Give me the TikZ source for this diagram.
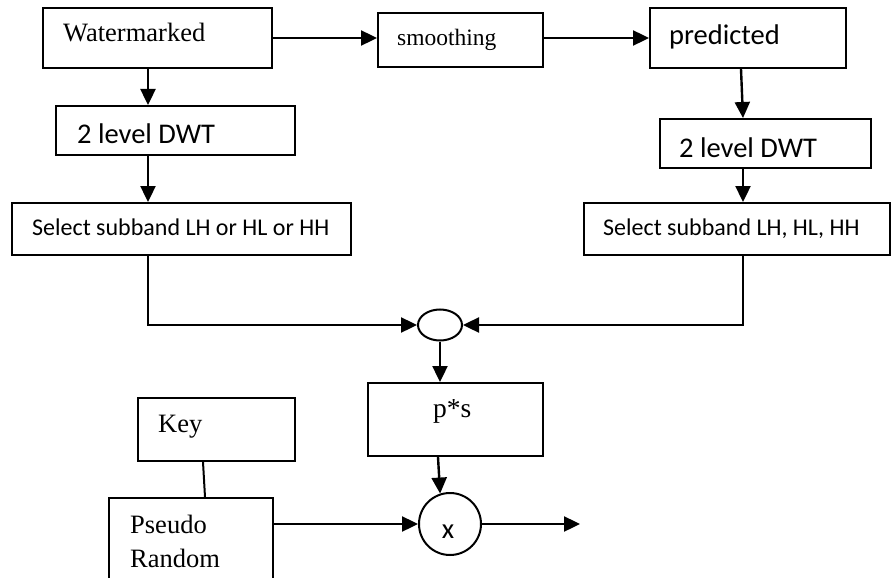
\documentclass[tikz,border=0pt]{standalone}
\usepackage{fontspec}
\setmainfont{Liberation Serif}
\newfontfamily\calfont{Carlito}
\usetikzlibrary{arrows.meta,calc,shapes.geometric}
\tikzset{
  box/.style={draw, line width=2pt, rectangle, inner sep=0pt, anchor=north west},
  ser/.style={font=\fontsize{26.5}{30}\selectfont, inner sep=0pt, anchor=base west},
  sans/.style={font=\calfont\fontsize{28.5}{32}\selectfont, inner sep=0pt, anchor=base west},
  sanssm/.style={font=\calfont\fontsize{24}{28}\selectfont, inner sep=0pt, anchor=base west},
  arr/.style={line width=2.4pt, -{Triangle[length=16pt,width=15pt]}},
  ln/.style={line width=2pt}
}
\begin{document}
\begin{tikzpicture}[x=1pt,y=-1pt]
\useasboundingbox[fill=white] (0,0) rectangle (892,578);
% boxes
\node[box, minimum width=229pt, minimum height=60pt] (wm) at (42,7) {};
\node[box, minimum width=165pt, minimum height=54pt] (sm) at (377,12) {};
\node[box, minimum width=196pt, minimum height=60pt] (pr) at (649,7) {};
\node[box, minimum width=239pt, minimum height=49pt] (dwt1) at (55,105) {};
\node[box, minimum width=211pt, minimum height=49pt] (dwt2) at (659,118) {};
\node[box, minimum width=339pt, minimum height=52pt] (sel1) at (11,202) {};
\node[box, minimum width=306pt, minimum height=52pt] (sel2) at (583,202) {};
\node[draw, line width=2pt, ellipse, minimum width=44pt, minimum height=31pt, inner sep=0pt] (ell) at (440,325) {};
\node[box, minimum width=175pt, minimum height=73pt] (ps) at (367,382) {};
\node[draw, line width=2pt, circle, minimum size=62pt, inner sep=0pt] (circ) at (450,524) {};
\node[box, minimum width=157pt, minimum height=63pt] (key) at (137,397) {};
\node[box, minimum width=164pt, minimum height=103pt] (psr) at (108,497) {};
% texts
\node[ser] (wmt) at (63,42) {Watermarked};
\node[ser, font=\fontsize{23.5}{27}\selectfont] (smt) at (397,46) {smoothing};
\node[sans] (prt) at (669,45) {predicted};
\node[sans] (dwt1t) at (77,143) {2 level DWT};
\node[sans] (dwt2t) at (679,157) {2 level DWT};
\node[sanssm] (sel1t) at (32,235) {Select subband LH or HL or HH};
\node[sanssm] (sel2t) at (603,235) {Select subband LH, HL, HH};
\node[ser, font=\fontsize{27.5}{30}\selectfont] (pst) at (433,417) {p*s};
\node[sans, anchor=base] (circt) at (448,538) {x};
\node[ser] (keyt) at (158,432) {Key};
\node[ser] (psrt1) at (130,533) {Pseudo};
\node[ser] (psrt2) at (130,567) {Random};
\coordinate (out) at (580,524);
% connectors
\draw[arr] (wm.east) -- (wm.east -| sm.west);
\draw[arr] (sm.east |- pr.west) -- (pr.west);
\draw[arr] ([xshift=106pt]wm.south west) -- ([xshift=93pt]dwt1.north west);
\draw[arr] ([xshift=93pt]dwt1.south west) -- ([xshift=137pt]sel1.north west);
\draw[arr] ([xshift=92pt]pr.south west) -- ([xshift=84pt]dwt2.north west);
\draw[arr] ([xshift=84pt]dwt2.south west) -- ([xshift=160pt]sel2.north west);
\draw[arr] ([xshift=137pt]sel1.south west) |- (ell.west);
\draw[arr] ([xshift=160pt]sel2.south west) |- (ell.east);
\draw[arr] (ell.south) -- (ell.south |- ps.north);
\draw[arr] ([xshift=71pt]ps.south west) -- (circ.108);
\draw[arr] (psr.east |- circ.west) -- (circ.west);
\draw[arr] (circ.east) -- (out);
\draw[ln] ([xshift=66pt]key.south west) -- ([xshift=97pt]psr.north west);
\end{tikzpicture}
\end{document}
